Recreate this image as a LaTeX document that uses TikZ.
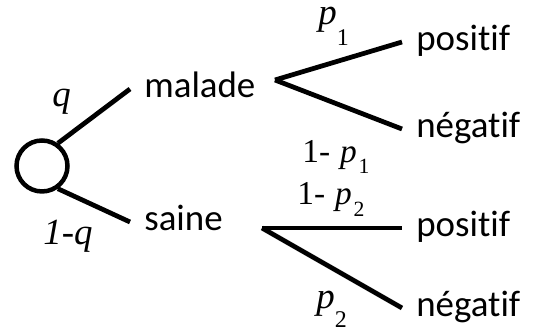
\documentclass[tikz,border=0pt]{standalone}
\usepackage{fontspec}
\setmainfont{Carlito}[Ligatures=NoCommon]
\newfontfamily\labelfont{Liberation Serif}
\usetikzlibrary{positioning}
\tikzstyle{issue} = [anchor=west, 
inner xsep=0.28cm, 
inner ysep=0pt, 
text height=9.8pt, 
text depth=0pt, 
font=\fontsize{21}{25}\selectfont]
\tikzstyle{prob} = [anchor=base west, 
inner sep=0pt, 
font=\labelfont\fontsize{21}{25}\selectfont]
\tikzstyle{petit} = [font=\labelfont\fontsize{19}{22}\selectfont]
\tikzstyle{branche} = [line width=0.095cm, draw=black]
\newcommand{\ind}[2][0.55em]{\raisebox{-#1}{\scalebox{0.65}{#2}}}

\begin{document}
\begin{tikzpicture}[x=0.02cm, y=-0.02cm]
        \useasboundingbox (0,0) rectangle (545,333);

        % Noeuds
        \node (racine) [circle, draw, line width=0.09cm, minimum size=1.02cm, inner sep=0pt] at (42,166) {};
        \node (malade) [issue] at (130,89) {malade};
        \node (saine) [issue] at (130,222) {saine};
        \coordinate (f1) at (275,80);
        \coordinate (f2) at (262,228);
        \node (pos1) [issue] at (402,42) {positif};
        \node (neg1) [issue] at (402,129) {négatif};
        \node (pos2) [issue] at (402,228) {positif};
        \node (neg2) [issue] at (402,308) {négatif};

        % Probabilites
        \node (pq) [prob] at (52,107) {\textit{q}};
        \node (p1q) [prob] at (43,245) {\textit{1-q}};
        \node (pp1) [prob] at (318,25) {\textit{p}\ind{1}};
        \node (p1p1) [prob, petit] at (302,163) {1-\kern0.3em\textit{p}\kern0.05em\ind[0.3em]{1}};
        \node (p1p2) [prob, petit] at (297,205) {1-\kern0.3em\textit{p}\kern0.05em\ind[0.35em]{2}};
        \node (pp2) [prob] at (316,309) {\textit{p}\ind[0.5em]{2}};

        % Branches
        \draw [branche] (racine.55) -- (malade.west);
        \draw [branche] (racine.-55) -- (saine.west);
        \draw [branche] (f1) -- (pos1.west);
        \draw [branche] (f1) -- (neg1.west);
        \draw [branche] (f2) -- (pos2.west);
        \draw [branche] (f2) -- (neg2.west);

    \end{tikzpicture}
\end{document}
